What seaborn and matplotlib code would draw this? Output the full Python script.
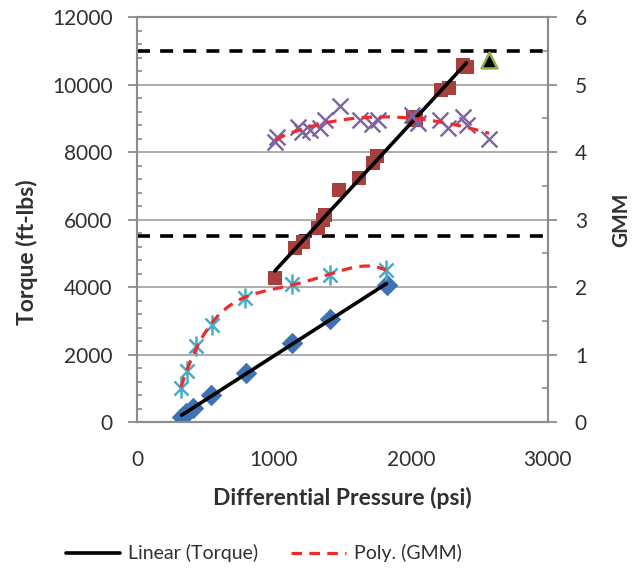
import numpy as np
import matplotlib
matplotlib.use("Agg")
import matplotlib.pyplot as plt
from matplotlib.path import Path
from matplotlib.ticker import MultipleLocator
import seaborn as sns

# Data
# lower test: torque (blue diamonds) and GMM (teal asterisks)
low_torque_psi = [326, 360, 411, 538, 796, 1134, 1409, 1823]
low_torque = [157, 280, 406, 800, 1443, 2332, 3052, 4059]
low_gmm_psi = [321, 363, 428, 545, 788, 1129, 1409, 1818]
low_gmm = [0.50, 0.75, 1.12, 1.44, 1.83, 2.05, 2.18, 2.25]

# upper test: torque (brown squares) and GMM (purple crosses)
high_torque_psi = [1007, 1153, 1214, 1323, 1355, 1372, 1477, 1623, 1725, 1750,
                   2017, 2040, 2219, 2280, 2382, 2407]
high_torque = [4257, 5146, 5343, 5738, 6000, 6133, 6874, 7220, 7664, 7881,
               9046, 8950, 9837, 9906, 10578, 10528]
high_gmm_psi = [1010, 1020, 1178, 1202, 1263, 1336, 1372, 1482, 1628, 1720,
                1760, 2005, 2054, 2212, 2272, 2382, 2407, 2572]
high_gmm = [4.15, 4.22, 4.37, 4.30, 4.33, 4.35, 4.47, 4.68, 4.47, 4.42,
            4.47, 4.55, 4.43, 4.47, 4.35, 4.52, 4.40, 4.20]

# single stall point (triangle) and torque limits (dashed lines)
stall_psi = [2572]
stall_torque = [10726]
torque_limits = [11000, 5500]

sns.set_style("white")
plt.rcParams['font.family'] = ['Lato', 'DejaVu Sans']
text_col = '#303030'
axis_col = '#8C8C8C'

fig, ax = plt.subplots(figsize=(6.34, 5.73), dpi=100)
fig.subplots_adjust(left=0.216, right=0.864, bottom=0.2635, top=0.9703)
ax2 = ax.twinx()

# gridlines and limits
ax.yaxis.grid(True, color='#A6A6A6', lw=1.3)
ax.set_axisbelow(True)
for lim in torque_limits:
    ax.axhline(lim, color='black', lw=2.6, dashes=(3.6, 2.8), zorder=3)

# asterisk marker like Excel's
star = Path([(0, -1), (0, 1), (-0.7, -0.7), (0.7, 0.7), (-0.7, 0.7), (0.7, -0.7)],
            [Path.MOVETO, Path.LINETO] * 3)

# torque points
sns.scatterplot(x=low_torque_psi, y=low_torque, ax=ax, marker='D', s=120,
                color='#3D72B4', linewidth=0, zorder=4)
sns.scatterplot(x=high_torque_psi, y=high_torque, ax=ax, marker='s', s=100,
                color='#A5403D', linewidth=0, zorder=4)
sns.scatterplot(x=stall_psi, y=stall_torque, ax=ax, marker='^', s=130,
                color='black', edgecolor='#8DB048', linewidth=1.8, zorder=6)

# linear trendlines (torque)
lin_lines = []
for px, ty in [(low_torque_psi, low_torque), (high_torque_psi, high_torque)]:
    coef = np.polyfit(px, ty, 1)
    xs = np.linspace(min(px), max(px), 50)
    sns.lineplot(x=xs, y=np.polyval(coef, xs), ax=ax, color='black', lw=2.6,
                 legend=False, zorder=5)
    lin_lines.append(ax.lines[-1])

# GMM points
sns.scatterplot(x=low_gmm_psi, y=low_gmm, ax=ax2, marker=star, s=210,
                color='#4AACC6', edgecolor='#4AACC6', linewidth=1.8, zorder=4)
sns.scatterplot(x=high_gmm_psi, y=high_gmm, ax=ax2, marker='x', s=130,
                color='#7E62A3', linewidth=1.7, zorder=4)

# polynomial trendlines (GMM)
poly_lines = []
for px, gy, deg in [(low_gmm_psi, low_gmm, 4), (high_gmm_psi, high_gmm, 3)]:
    coef = np.polyfit(px, gy, deg)
    xs = np.linspace(min(px), max(px), 300)
    sns.lineplot(x=xs, y=np.polyval(coef, xs), ax=ax2, color='#EE2A2A', lw=2.3,
                 legend=False, zorder=5)
    ax2.lines[-1].set_dashes((3.3, 2.3))
    poly_lines.append(ax2.lines[-1])

# axes
ax.set_xlim(0, 3000)
ax.set_ylim(0, 12000)
ax2.set_ylim(0, 6)
ax.set_xticks(range(0, 3001, 1000))
ax.set_yticks(range(0, 12001, 2000))
ax.yaxis.set_minor_locator(MultipleLocator(400))
ax2.set_yticks(range(0, 7))
ax2.yaxis.set_minor_locator(MultipleLocator(0.5))

for a in (ax, ax2):
    for sp in a.spines.values():
        sp.set_color(axis_col)
        sp.set_linewidth(1.5)
ax.tick_params(axis='both', which='major', direction='out', length=6.5, width=1.3,
               color=axis_col, labelsize=15, labelcolor=text_col, pad=11)
ax.tick_params(axis='x', which='major', pad=14)
ax.tick_params(axis='y', which='minor', direction='in', length=3.5, width=1.2,
               color=axis_col, left=True)
ax2.tick_params(axis='y', which='major', direction='out', length=6.5, width=1.3,
                color=axis_col, labelsize=15, labelcolor=text_col, pad=13)
ax2.tick_params(axis='y', which='minor', direction='in', length=4, width=1.2,
                color=axis_col, right=True)

ax.set_xlabel('Differential Pressure (psi)', fontsize=16.5, fontweight='bold',
              color=text_col)
ax.xaxis.set_label_coords(0.5, -0.16)
ax.set_ylabel('Torque (ft-lbs)', fontsize=16.5, fontweight='bold', color=text_col)
ax.yaxis.set_label_coords(-0.24, 0.42)
ax2.set_ylabel('GMM', fontsize=15, fontweight='bold', color=text_col)
ax2.yaxis.set_label_coords(1.155, 0.5)

fig.legend([lin_lines[0], poly_lines[0]], ['Linear (Torque)', 'Poly. (GMM)'],
           loc='lower center', bbox_to_anchor=(0.416, -0.012), ncol=2, frameon=False,
           fontsize=14, handlelength=2.8, handletextpad=0.4, columnspacing=1.7,
           labelcolor=text_col)

fig.savefig('out.png', dpi=100)
